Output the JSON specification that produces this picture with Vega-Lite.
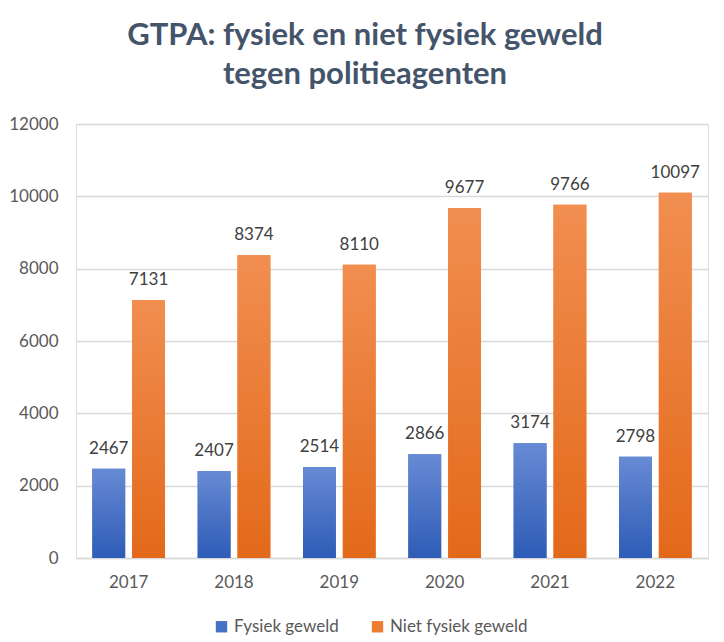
{
  "$schema": "https://vega.github.io/schema/vega-lite/v6.json",
  "width": 632,
  "height": 434,
  "autosize": {"type": "none"},
  "padding": {"left": 76, "top": 124, "right": 16, "bottom": 84},
  "background": "white",
  "title": {
    "text": ["GTPA: fysiek en niet fysiek geweld", "tegen politieagenten"],
    "font": "Lato",
    "fontSize": 31,
    "fontWeight": "bold",
    "color": "#44546A",
    "lineHeight": 39,
    "anchor": "middle",
    "dx": -27,
    "offset": 24
  },
  "data": {
    "values": [
      {"jaar": "2017", "soort": "Fysiek geweld", "aantal": 2467},
      {"jaar": "2017", "soort": "Niet fysiek geweld", "aantal": 7131},
      {"jaar": "2018", "soort": "Fysiek geweld", "aantal": 2407},
      {"jaar": "2018", "soort": "Niet fysiek geweld", "aantal": 8374},
      {"jaar": "2019", "soort": "Fysiek geweld", "aantal": 2514},
      {"jaar": "2019", "soort": "Niet fysiek geweld", "aantal": 8110},
      {"jaar": "2020", "soort": "Fysiek geweld", "aantal": 2866},
      {"jaar": "2020", "soort": "Niet fysiek geweld", "aantal": 9677},
      {"jaar": "2021", "soort": "Fysiek geweld", "aantal": 3174},
      {"jaar": "2021", "soort": "Niet fysiek geweld", "aantal": 9766},
      {"jaar": "2022", "soort": "Fysiek geweld", "aantal": 2798},
      {"jaar": "2022", "soort": "Niet fysiek geweld", "aantal": 10097}
    ]
  },
  "encoding": {
    "x": {
      "field": "jaar",
      "type": "nominal",
      "title": null,
      "scale": {"paddingInner": 0.31, "paddingOuter": 0.155},
      "axis": {
        "labelAngle": 0,
        "labelFont": "Lato",
        "labelFontSize": 17,
        "labelColor": "#595959",
        "labelPadding": 16,
        "ticks": false,
        "domainColor": "#D9D9D9",
        "domainWidth": 1.5
      }
    },
    "xOffset": {
      "field": "soort",
      "type": "nominal",
      "scale": {"domain": ["Fysiek geweld", "Niet fysiek geweld"], "paddingInner": 0.175, "paddingOuter": 0}
    },
    "y": {
      "field": "aantal",
      "type": "quantitative",
      "title": null,
      "scale": {"domain": [0, 12000]},
      "axis": {
        "values": [0, 2000, 4000, 6000, 8000, 10000, 12000],
        "format": "d",
        "labelFont": "Lato",
        "labelFontSize": 17,
        "labelColor": "#595959",
        "labelPadding": 18,
        "ticks": false,
        "domain": false,
        "gridColor": "#D9D9D9",
        "gridWidth": 1.5
      }
    }
  },
  "layer": [
    {
      "mark": {"type": "bar"},
      "encoding": {
        "color": {
          "field": "soort",
          "type": "nominal",
          "scale": {"domain": ["Fysiek geweld", "Niet fysiek geweld"], "range": ["#4472C4", "#ED7D31"]},
          "legend": {
            "title": null,
            "orient": "none",
            "legendX": 137,
            "legendY": 494,
            "direction": "horizontal",
            "symbolType": "square",
            "symbolSize": 130,
            "symbolStrokeWidth": 0,
            "labelFont": "Lato",
            "labelFontSize": 17,
            "labelColor": "#595959",
            "columnPadding": 30
          }
        }
      }
    },
    {
      "transform": [{"filter": "datum.soort === 'Fysiek geweld'"}],
      "mark": {
        "type": "bar",
        "color": {
          "gradient": "linear", "x1": 0, "y1": 0, "x2": 0, "y2": 1,
          "stops": [{"offset": 0, "color": "#678AD4"}, {"offset": 1, "color": "#2E5CB6"}]
        }
      }
    },
    {
      "transform": [{"filter": "datum.soort === 'Niet fysiek geweld'"}],
      "mark": {
        "type": "bar",
        "color": {
          "gradient": "linear", "x1": 0, "y1": 0, "x2": 0, "y2": 1,
          "stops": [{"offset": 0, "color": "#F18E50"}, {"offset": 1, "color": "#E3691A"}]
        }
      }
    },
    {
      "mark": {"type": "text", "baseline": "bottom", "dy": -11, "font": "Lato", "fontSize": 17, "color": "#404040"},
      "encoding": {"text": {"field": "aantal", "type": "quantitative", "format": "d"}}
    }
  ]
}
